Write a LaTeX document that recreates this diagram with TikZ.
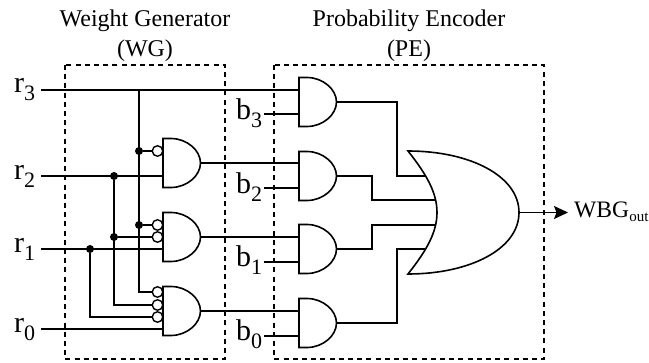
\documentclass[tikz,border=0pt]{standalone}
\usepackage{fontspec}
\setmainfont{Liberation Serif}
\usetikzlibrary{arrows.meta}
\tikzset{
  wire/.style={line width=1.7pt},
  gateline/.style={line width=1.6pt, fill=white},
  boxline/.style={line width=1.6pt, dash pattern=on 5pt off 4.2pt},
  bubble/.style={circle, draw, line width=1.4pt, fill=white, minimum size=10.5pt, inner sep=0pt},
  junction/.style={circle, fill=black, minimum size=8pt, inner sep=0pt},
  biglabel/.style={inner sep=0pt, font=\fontsize{30}{30}\selectfont},
  title/.style={align=center, inner sep=0pt, font=\fontsize{24}{30}\selectfont}
}
\newcommand{\subl}[2]{#1\raisebox{-8pt}{\fontsize{22}{22}\selectfont #2}}
% name, left x, top y : AND gate 37 wide, 49 tall
\newcommand{\andgate}[3]{%
  \draw[gateline] (#2,#3) -- (#2+8,#3) .. controls (#2+24,#3) and (#2+37.5,#3+12) .. (#2+37.5,#3+24.5)
     .. controls (#2+37.5,#3+37) and (#2+24,#3+49) .. (#2+8,#3+49) -- (#2,#3+49) -- cycle;
  \coordinate (#1out) at (#2+37.5,#3+24.5);
}
\begin{document}
\begin{tikzpicture}[x=1pt,y=-1pt]
\useasboundingbox (0,0) rectangle (649,363);
% boxes
\draw[boxline] (65,65) rectangle (225,359);
\draw[boxline] (274,65) rectangle (544,359);
% titles
\node[title,anchor=base] (wgt) at (145,57) {Weight Generator\\(WG)};
\node[title,anchor=base] (pet) at (409,57) {Probability Encoder\\(PE)};
% gates
\andgate{ga}{163}{138.5}
\andgate{gb}{163}{212.5}
\andgate{gc}{163}{286.5}
\andgate{pa}{299}{77.5}
\andgate{pb}{299}{151.5}
\andgate{pc}{299}{224.5}
\andgate{pd}{299}{298.5}
% or gate
\draw[gateline] (408,151) .. controls (470,151) and (519,176) .. (519,212.5)
   .. controls (519,249) and (470,274) .. (408,274)
   .. controls (427,250) and (437,232) .. (437,212.5)
   .. controls (437,193) and (427,175) .. (408,151) -- cycle;
\coordinate (orout) at (519,212.5);
\coordinate (oa) at (426,176);
\coordinate (ob) at (435,200);
\coordinate (oc) at (435,225);
\coordinate (od) at (426,249);
% input labels
\node[biglabel,anchor=base west] (r3) at (14,93) {\subl{r}{3}};
\node[biglabel,anchor=base west] (r2) at (14,180) {\subl{r}{2}};
\node[biglabel,anchor=base west] (r1) at (14,253) {\subl{r}{1}};
\node[biglabel,anchor=base west] (r0) at (14,333) {\subl{r}{0}};
\node[biglabel,anchor=base west] (b3) at (236,120) {\subl{b}{3}};
\node[biglabel,anchor=base west] (b2) at (236,194) {\subl{b}{2}};
\node[biglabel,anchor=base west] (b1) at (236,267) {\subl{b}{1}};
\node[biglabel,anchor=base west] (b0) at (236,341) {\subl{b}{0}};
\node[inner sep=0pt,anchor=base west,font=\fontsize{23.6}{24}\selectfont] (wbg) at (574,218) {WBG\raisebox{-4pt}{\fontsize{15}{15}\selectfont out}};
% free ends
\coordinate (r3s) at (41,90);
\coordinate (r2s) at (41,176);
\coordinate (r1s) at (41,249);
\coordinate (r0s) at (41,329);
\coordinate (b3s) at (264,114);
\coordinate (b2s) at (264,188);
\coordinate (b1s) at (264,262);
\coordinate (b0s) at (264,336);
\coordinate (v3) at (139,90);
% junctions and bubbles
\node[junction] (j1) at (139,151) {};
\node[junction] (j2) at (114,176) {};
\node[junction] (j3) at (139,225) {};
\node[junction] (j4) at (114,237) {};
\node[junction] (j5) at (90,249) {};
\node[bubble] (n1) at (157.5,151) {};
\node[bubble] (n2) at (157.5,225) {};
\node[bubble] (n3) at (157.5,237) {};
\node[bubble] (n4) at (157.5,292) {};
\node[bubble] (n5) at (157.5,305) {};
\node[bubble] (n6) at (157.5,317) {};
% wires
\begin{scope}[wire]
\draw (r3s) -- (299,90);
\draw (r2s) -- (163,176);
\draw (r1s) -- (163,249);
\draw (r0s) -- (163,329);
\draw (v3) |- (n4.west);
\draw (j2) |- (n5.west);
\draw (j5) |- (n6.west);
\draw (j1) -- (n1);
\draw (j3) -- (n2);
\draw (j4) -- (n3);
\draw (gaout) -- (299,163);
\draw (gbout) -- (299,237);
\draw (gcout) -- (299,311);
\draw (b3s) -- (299,114);
\draw (b2s) -- (299,188);
\draw (b1s) -- (299,262);
\draw (b0s) -- (299,336);
\draw (paout) -| (397,176) -- (oa);
\draw (pbout) -| (372,200) -- (ob);
\draw (pcout) -| (372,225) -- (oc);
\draw (pdout) -| (397,249) -- (od);
\draw[-{Stealth[length=14pt,width=13pt,inset=2.5pt]}] (orout) -- (568,212.5);
\end{scope}
\end{tikzpicture}
\end{document}
